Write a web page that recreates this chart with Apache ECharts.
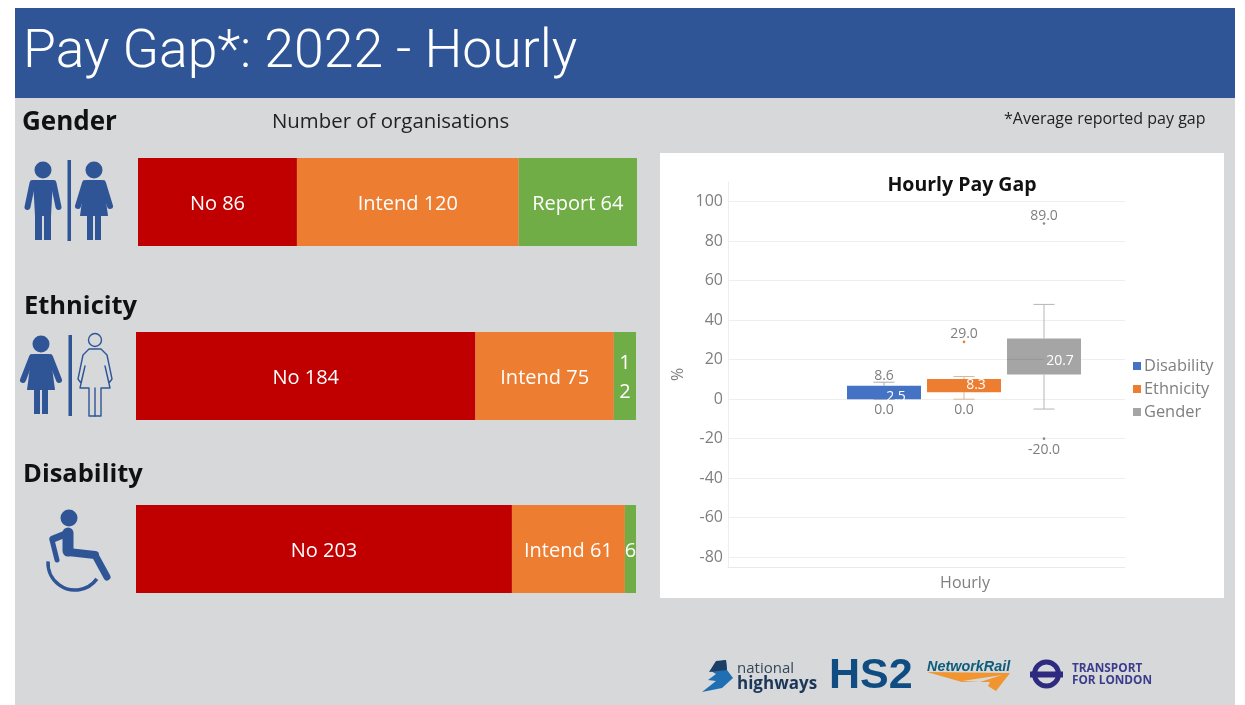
<!DOCTYPE html>
<html><head><meta charset="utf-8">
<style>html,body{margin:0;padding:0;background:#fff}#c{width:1245px;height:705px}</style>
<script src="https://cdn.jsdelivr.net/npm/echarts@6/dist/echarts.min.js"></script>
</head><body><div id="c"></div>
<script>
const responseNames = ['No', 'Intend', 'Report'];
const genderCounts = [86, 120, 64];
const ethnicityCounts = [184, 75, 12];
const disabilityCounts = [203, 61, 6];

const boxCategories = ['Hourly'];
const boxSeriesNames = ['Disability', 'Ethnicity', 'Gender'];
// low whisker, Q1, median, Q3, high whisker
const disabilityBox = [0, 0, 2.5, 6.8, 8.6];
const ethnicityBox = [0, 3.5, 8.3, 10.2, 11.5];
const genderBox = [-5, 12.5, 20.7, 30.7, 48];
const disabilityOutliers = [];
const ethnicityOutliers = [29];
const genderOutliers = [89, -20];
const percentTicks = [-80, -60, -40, -20, 0, 20, 40, 60, 80, 100];

const FONT = '"Open Sans", sans-serif';
const RED = '#C00000', ORANGE = '#ED7D31', GREEN = '#70AD47';
const ICON = '#2F5597';
const segColors = [RED, ORANGE, GREEN];

/* ---------- stacked bars ---------- */
const barGrids = [
  { left: 138, width: 499, top: 158, height: 88 },
  { left: 136, width: 500, top: 332, height: 88 },
  { left: 136, width: 500, top: 505, height: 88 }
];
const barRows = [genderCounts, ethnicityCounts, disabilityCounts];
const grids = barGrids.slice();
const xAxes = [], yAxes = [], series = [];

function segLabel(name, value) {
  if (value === 12) return '1\n2';
  if (value === 6) return '6';
  return name + ' ' + value;
}
barRows.forEach((row, g) => {
  xAxes.push({ gridIndex: g, type: 'value', min: 0, max: row.reduce((a, b) => a + b, 0), show: false });
  yAxes.push({ gridIndex: g, type: 'category', data: [''], show: false });
  row.forEach((v, i) => {
    series.push({
      type: 'bar', name: responseNames[i], stack: 'g' + g, xAxisIndex: g, yAxisIndex: g,
      barWidth: '100%', data: [v], silent: true,
      itemStyle: { color: segColors[i] },
      label: {
        show: true, position: 'inside', color: '#fff', fontFamily: FONT, fontSize: 20, lineHeight: 29,
        offset: [0, 2], formatter: segLabel(responseNames[i], v)
      }
    });
  });
});

/* ---------- box chart ---------- */
// grid 3: the frame with the value scale. grid 4: the plotted band, same vertical scale.
const Y_MIN = -85, Y_MAX = 110;
grids.push({ left: 728, width: 397, top: 182, height: 385 });
xAxes.push({
  gridIndex: 3, type: 'category', data: [''],
  axisLine: { show: true, onZero: false, lineStyle: { color: '#e9e9e9' } },
  axisTick: { show: false }, axisLabel: { show: false }
});
yAxes.push({
  gridIndex: 3, type: 'value', min: Y_MIN, max: Y_MAX,
  name: '%', nameLocation: 'middle', nameGap: 42, nameRotate: 90,
  nameTextStyle: { color: '#7f7f7f', fontFamily: FONT, fontSize: 16 },
  axisLine: { show: true, lineStyle: { color: '#eeeeee' } },
  axisTick: { show: false, customValues: percentTicks },
  axisLabel: { customValues: percentTicks, color: '#7f7f7f', fontFamily: FONT, fontSize: 16, margin: 5, padding: [3, 0, 0, 0] },
  splitLine: { show: true, lineStyle: { color: '#eeeeee' } }
});
grids.push({ left: 806, width: 318, top: 182, height: 385 });
xAxes.push({
  gridIndex: 4, type: 'category', data: boxCategories,
  axisLine: { show: false }, axisTick: { show: false },
  axisLabel: { color: '#7f7f7f', fontFamily: FONT, fontSize: 16, margin: 8 }
});
yAxes.push({ gridIndex: 4, type: 'value', min: Y_MIN, max: Y_MAX, show: false });

const boxRows = [disabilityBox, ethnicityBox, genderBox];
const outlierRows = [disabilityOutliers, ethnicityOutliers, genderOutliers];
const boxColors = ['#4472C4', '#ED7D31', '#A5A5A5'];
const whiskerColors = ['#ABABAB', '#D9B799', '#B5B5B5'];
const outlierColors = ['#4472C4', '#ED7D31', '#8C8C8C'];
const PITCH = 80, BOX_W = 74, CAP_W = 21;
const labelGrey = '#7f7f7f';
const valueFont = '14px ' + FONT;

function renderBox(idx) {
  return function (params, api) {
    const cx = api.coord([0, 0])[0] + (idx - 1) * PITCH - 1;
    const y = v => api.coord([0, v])[1];
    const [low, q1, med, q3, high] = boxRows[idx];
    const kids = [];
    const line = (x1, y1, x2, y2, c) => kids.push({
      type: 'line', shape: { x1, y1, x2, y2 }, style: { stroke: c, lineWidth: 1 }
    });
    const text = (t, x, yy, fill) => kids.push({
      type: 'text', z2: 10,
      style: { text: t, x, y: yy, fill, font: valueFont, align: 'center', verticalAlign: 'middle' }
    });
    const wc = whiskerColors[idx];
    line(cx, y(high), cx, y(q3), wc);
    line(cx, y(q1), cx, y(low), wc);
    line(cx - CAP_W / 2, y(high), cx + CAP_W / 2, y(high), wc);
    line(cx - CAP_W / 2, y(low), cx + CAP_W / 2, y(low), wc);
    kids.push({
      type: 'rect',
      shape: { x: cx - BOX_W / 2, y: y(q3), width: BOX_W, height: y(q1) - y(q3) },
      style: { fill: boxColors[idx] }
    });
    if (idx === 2) line(cx - BOX_W / 2, y(med) + 1, cx, y(med) + 1, '#979797');
    outlierRows[idx].forEach(v => {
      kids.push({ type: 'circle', shape: { cx, cy: y(v), r: 1.3 }, style: { fill: outlierColors[idx] } });
      text(v.toFixed(1), cx, v > 0 ? y(v) - 7.5 : y(v) + 11, labelGrey);
    });
    if (idx === 0) text(high.toFixed(1), cx, y(high) - 6.5, labelGrey);
    if (idx < 2) text(low.toFixed(1), cx, y(low) + 11, labelGrey);
    text(med.toFixed(1), cx + (idx === 2 ? 16 : 12), y(med) + 2.5, '#fff');
    return { type: 'group', children: kids };
  };
}
boxSeriesNames.forEach((name, i) => {
  series.push({
    type: 'custom', name, xAxisIndex: 4, yAxisIndex: 4, silent: true, z: 5,
    coordinateSystem: 'cartesian2d',
    data: [[0, ...boxRows[i]]],
    encode: { x: 0, y: [1, 2, 3, 4, 5] },
    itemStyle: { color: boxColors[i] },
    renderItem: renderBox(i)
  });
});

/* ---------- decoration: pictograms and logos ---------- */
const g = [];
const rect = (x, y, w, h, fill, z) => g.push({ type: 'rect', z: z === undefined ? 1 : z, silent: true, shape: { x, y, width: w, height: h }, style: { fill } });
const txt = (text, x, y, size, fill, weight, family) => g.push({
  type: 'text', z: 6, silent: true, x, y,
  style: { text, fill, font: (weight || 'normal') + ' ' + size + 'px ' + (family || FONT), verticalAlign: 'middle' }
});
const poly = (points, fill) => g.push({ type: 'polygon', z: 3, silent: true, shape: { points }, style: { fill } });
const pline = (points, stroke, w) => g.push({ type: 'polyline', z: 3, silent: true, shape: { points }, style: { stroke, lineWidth: w, fill: 'none', lineCap: 'round', lineJoin: 'round' } });
const circ = (cx, cy, r, fill, stroke, lw) => g.push({ type: 'circle', z: 3, silent: true, shape: { cx, cy, r }, style: { fill, stroke, lineWidth: lw || 0 } });

rect(15, 8, 1220, 697, '#D6D8DA', -5);
rect(15, 8, 1220, 90, '#2F5597', -4);
rect(660, 153, 564, 445, '#FFFFFF', -4);

function man(cx, top) {
  circ(cx, top + 12, 8.5, ICON);
  poly([[cx - 10, top + 22], [cx + 10, top + 22], [cx + 8, top + 58], [cx - 8, top + 58]], ICON);
  pline([[cx - 10.5, top + 25], [cx - 15.5, top + 49]], ICON, 6);
  pline([[cx + 10.5, top + 25], [cx + 15.5, top + 49]], ICON, 6);
  rect(cx - 8, top + 56, 7, 26, ICON, 3);
  rect(cx + 1, top + 56, 7, 26, ICON, 3);
}
function woman(cx, top, spread) {
  const s = spread || 16;
  circ(cx, top + 12, 8.5, ICON);
  poly([[cx - 8, top + 22], [cx + 8, top + 22], [cx + 11, top + 35], [cx + 14, top + 58], [cx - 14, top + 58], [cx - 11, top + 35]], ICON);
  pline([[cx - 9, top + 25], [cx - s, top + 48]], ICON, 6);
  pline([[cx + 9, top + 25], [cx + s, top + 48]], ICON, 6);
  rect(cx - 7, top + 57, 6, 25, ICON, 3);
  rect(cx + 1, top + 57, 6, 25, ICON, 3);
}
function womanOutline(cx, top) {
  circ(cx, top + 7, 6.5, 'none', ICON, 1.4);
  pline([[cx - 6, top + 16], [cx + 6, top + 16], [cx + 12, top + 22], [cx + 17, top + 46], [cx + 14, top + 50], [cx + 10, top + 33], [cx + 15, top + 55],
    [cx + 6, top + 55], [cx + 6, top + 83], [cx - 6, top + 83], [cx - 6, top + 55], [cx - 15, top + 55], [cx - 10, top + 33], [cx - 14, top + 50], [cx - 17, top + 46], [cx - 12, top + 22], [cx - 6, top + 16]], ICON, 1.4);
  pline([[cx, top + 55], [cx, top + 83]], ICON, 1.4);
}
// gender
man(43, 158);
rect(67.5, 160, 3.5, 81, ICON, 3);
woman(94, 158);
// ethnicity
woman(41, 332, 18);
rect(68.5, 335, 3.5, 81, ICON, 3);
womanOutline(95, 333);
// wheelchair
circ(69, 518, 8.5, ICON);
pline([[68, 533], [68, 551]], ICON, 11);
pline([[53, 539], [68, 533]], ICON, 7);
pline([[52, 540], [57, 560]], ICON, 5);
pline([[68, 552], [95, 555]], ICON, 8);
pline([[95, 555], [107, 577]], ICON, 7);
g.push({ type: 'arc', z: 3, silent: true, shape: { cx: 75, cy: 563, r: 27, startAngle: Math.PI * 0.2, endAngle: Math.PI * 1.02, clockwise: true }, style: { stroke: ICON, lineWidth: 3.5, fill: 'none' } });

// section text
txt('Pay Gap*: 2022 - Hourly', 23, 54, 53.5, '#FFFFFF', '300', 'Roboto, sans-serif');
txt('Gender', 22, 123, 26, '#111111', 'bold');
txt('Ethnicity', 24, 307, 25.5, '#111111', 'bold');
txt('Disability', 23, 475, 25.5, '#111111', 'bold');
txt('Number of organisations', 272, 122, 20.4, '#222222');
txt('*Average reported pay gap', 1004, 119, 16, '#222222');

// logos
poly([[702, 692], [716, 681], [708, 680], [716, 674], [711, 671], [716, 662], [726, 660], [727, 670], [733, 678], [722, 688]], '#1F6FB2');
poly([[709, 672], [716, 661], [726, 660], [727, 670]], '#1D3F66');
txt('national', 737, 669, 15, '#33475B');
txt('highways', 737, 684, 17, '#1D3557', 'bold');
txt('HS2', 829, 676, 43, '#0F4C81', 'bold', '"Liberation Sans", sans-serif');
txt('NetworkRail', 927, 667, 14.4, '#0F5C7A', 'italic bold', '"Liberation Sans", sans-serif');
poly([[927, 672], [1010, 673], [996, 691], [988, 686], [990, 682], [962, 682]], '#F0952F');
poly([[962, 681], [1002, 675], [980, 682]], '#D6D8DA');
circ(1046.5, 674, 12, 'none', '#2E2A80', 5);
rect(1030, 671.5, 33, 6, '#2E2A80', 4);
txt('TRANSPORT', 1072, 669, 11.8, '#3D3C8C', 'bold');
txt('FOR LONDON', 1072, 681, 11.8, '#3D3C8C', 'bold');

/* ---------- chart ---------- */
const chart = echarts.init(document.getElementById('c'), null, { renderer: 'canvas', width: 1245, height: 705 });
chart.setOption({
  animation: false,
  backgroundColor: '#FFFFFF',
  title: {
    text: 'Hourly Pay Gap', left: 957, top: 170, textAlign: 'center',
    textStyle: { color: '#111111', fontFamily: FONT, fontSize: 19.5, fontWeight: 'bold' }
  },
  legend: {
    data: boxSeriesNames, orient: 'vertical', left: 1128, top: 351,
    itemWidth: 8, itemHeight: 8, itemGap: 3, icon: 'rect', selectedMode: false,
    textStyle: { color: '#7f7f7f', fontFamily: FONT, fontSize: 16.4, padding: [0, 0, 0, -2], lineHeight: 20 }
  },
  grid: grids,
  xAxis: xAxes,
  yAxis: yAxes,
  series,
  graphic: { elements: g }
});
</script></body></html>
